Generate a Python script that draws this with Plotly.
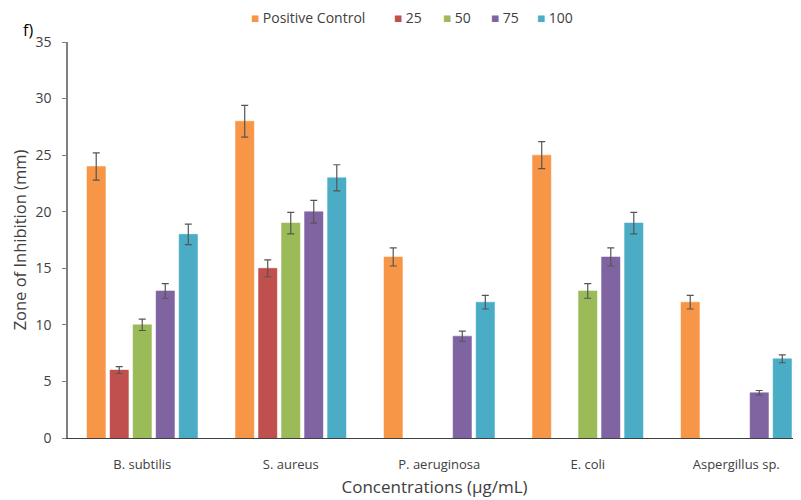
import plotly.graph_objects as go

categories = ["B. subtilis", "S. aureus", "P. aeruginosa", "E. coli", "Aspergillus sp."]
series_names = ["Positive Control", "25", "50", "75", "100"]
positive_control = [24, 28, 16, 25, 12]
c25 = [6, 15, None, None, None]
c50 = [10, 19, None, 13, None]
c75 = [13, 20, 9, 16, 4]
c100 = [18, 23, 12, 19, 7]
err_pc = [1.2, 1.4, 0.8, 1.2, 0.6]
err_25 = [0.3, 0.75, 0, 0, 0]
err_50 = [0.5, 0.95, 0, 0.65, 0]
err_75 = [0.65, 1.0, 0.45, 0.8, 0.2]
err_100 = [0.9, 1.15, 0.6, 0.95, 0.35]

values = [positive_control, c25, c50, c75, c100]
errors = [err_pc, err_25, err_50, err_75, err_100]
colors = ["#F79646", "#C0504D", "#9BBB59", "#8064A2", "#4BACC6"]
# legend entry left edges (paper x) for the top legend row
legend_x = [0.2470, 0.4420, 0.5090, 0.5745, 0.6372]

fig = go.Figure()
for name, vals, errs, col in zip(series_names, values, errors, colors):
    fig.add_trace(go.Bar(
        name=name, x=categories, y=vals, showlegend=False,
        marker=dict(color=col, line=dict(color=col, width=0.5)),
        error_y=dict(type="data", array=errs, visible=True, color="#555555",
                     thickness=1.2, width=3.5),
    ))

font = "Open Sans"
annotations = [dict(text="f)", xref="paper", yref="paper", x=-0.0546, y=1.030,
                    xanchor="center", yanchor="middle", showarrow=False,
                    font=dict(size=16, color="#000000"))]
for name, col, lx in zip(series_names, colors, legend_x):
    annotations.append(dict(
        text=f'<span style="color:{col};font-size:13.5px">■</span> {name}',
        xref="paper", yref="paper", x=lx, y=1.0619, xanchor="left", yanchor="middle",
        showarrow=False, font=dict(size=14, color="#404040", family=font)))

fig.update_layout(
    width=801, height=500,
    margin=dict(l=60, r=8, t=34, b=70, autoexpand=False),
    paper_bgcolor="white", plot_bgcolor="white",
    barmode="group", bargap=0.225, bargroupgap=0.2,
    font=dict(family=font, size=13, color="#404040"),
    showlegend=False,
    xaxis=dict(showline=True, linecolor="#404040", linewidth=1.2, ticks="",
               range=[-0.5, 4.436], ticklabelstandoff=14,
               tickfont=dict(size=13, color="#404040"),
               title=dict(text="Concentrations (µg/mL)", font=dict(size=17, color="#404040"), standoff=9)),
    yaxis=dict(range=[0, 35], dtick=5, showgrid=False, showline=True, linecolor="#808080",
               linewidth=1.5, ticks="outside", ticklen=4, tickcolor="#808080",
               ticklabelstandoff=8,
               tickfont=dict(size=14, color="#404040"), zeroline=False,
               title=dict(text="Zone of Inhibition (mm)", font=dict(size=16.5, color="#404040"), standoff=9)),
    annotations=annotations,
)
fig.write_html("out.html")
